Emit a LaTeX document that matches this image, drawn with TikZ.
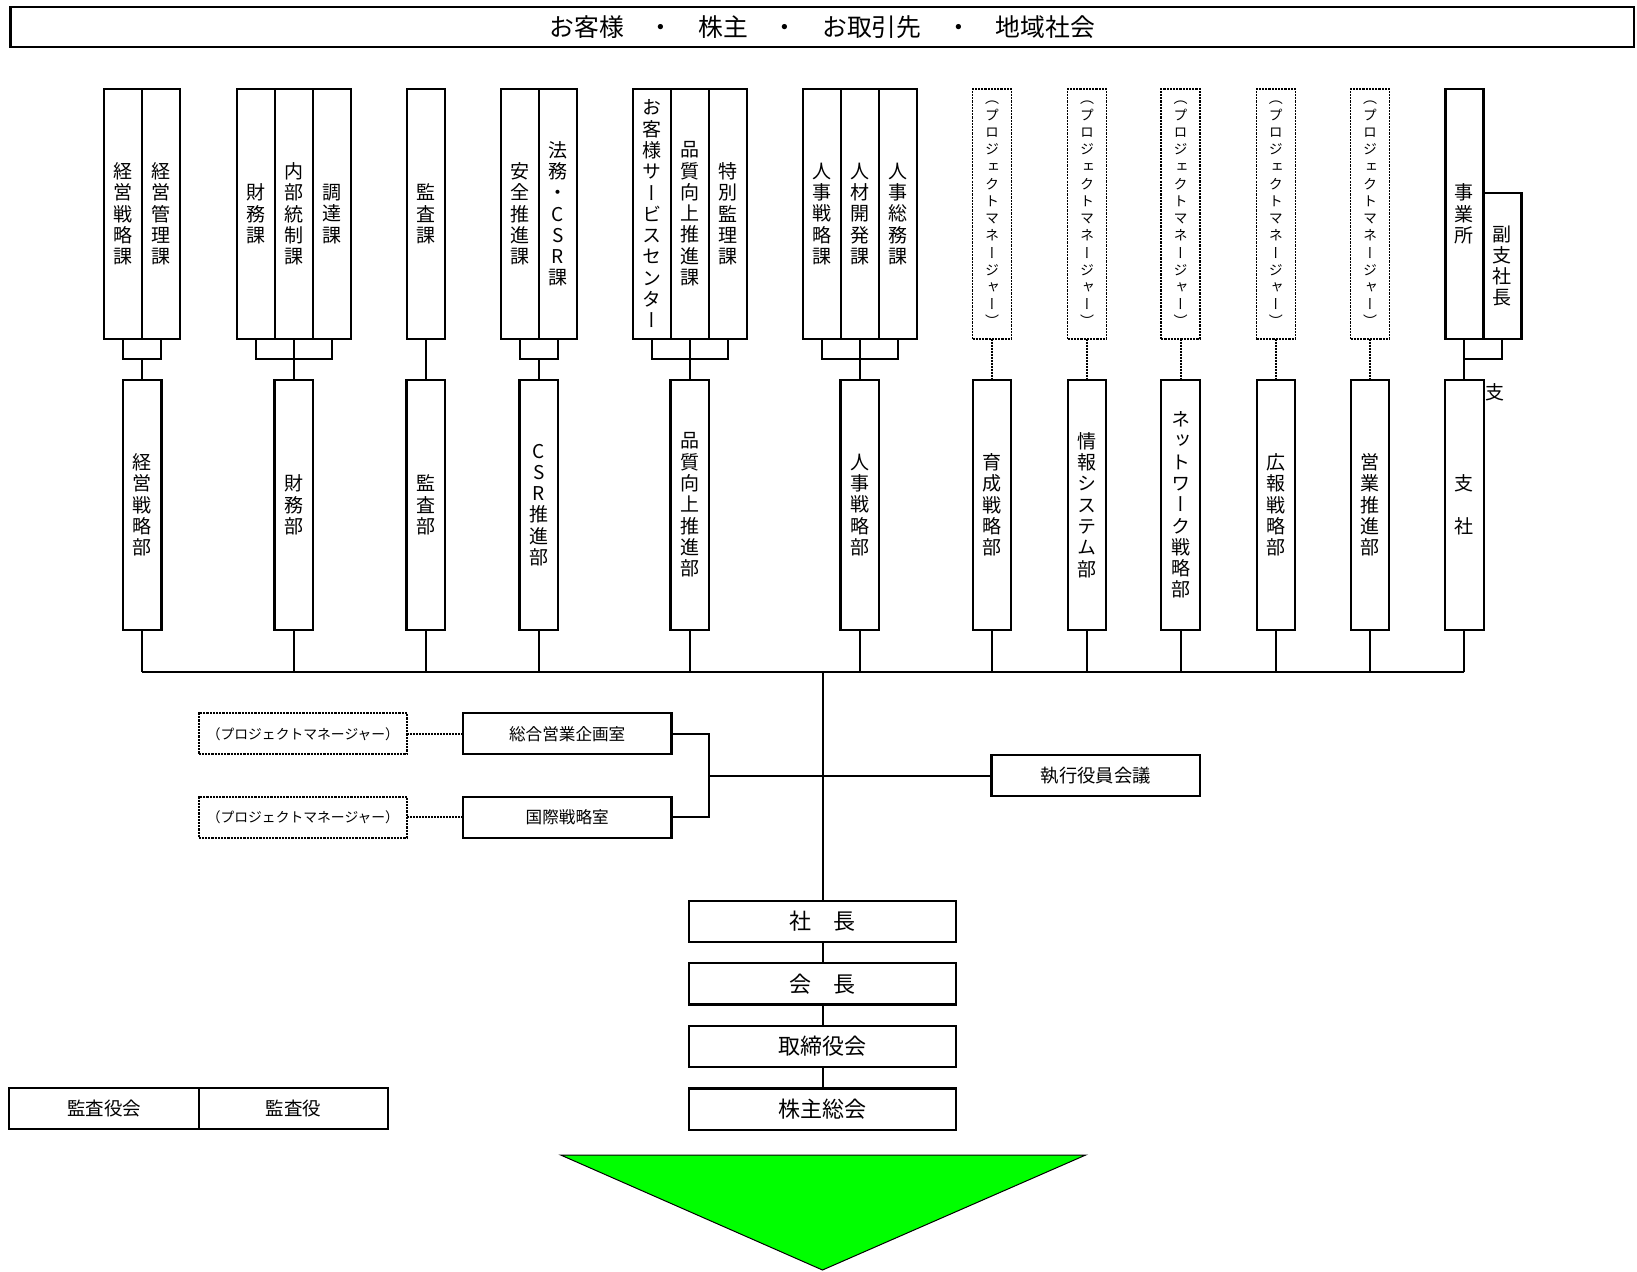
\documentclass[tikz,border=0pt]{standalone}
\usepackage{fontspec}
\setmainfont{Noto Sans CJK JP}
\newfontfamily\tate[RawFeature=+vert]{Noto Sans CJK JP}
\usetikzlibrary{positioning}
\definecolor{arrowgreen}{HTML}{00FF00}

\begin{document}
\begin{tikzpicture}[
    x=1pt, y=-1pt,
    node distance=41.3pt,
    box/.style={draw, line width=2.2pt, outer sep=0pt, inner sep=0pt, align=center},
    ka/.style={box, minimum width=38pt, minimum height=249.7pt,
               font=\tate\fontsize{19}{21.3}\selectfont},
    pmv/.style={ka, densely dotted, line width=1.8pt, minimum width=39pt,
                font=\tate\fontsize{14}{17.2}\selectfont},
    bu/.style={ka, minimum width=38.5pt, minimum height=250pt},
    hbox/.style={box, minimum width=208.5pt, minimum height=41pt,
                 font=\fontsize{16.6}{20}\selectfont},
    pmh/.style={hbox, densely dotted, line width=1.8pt,
                font=\fontsize{13.8}{16}\selectfont},
    exec/.style={box, minimum width=267pt, minimum height=41.3pt,
                 font=\fontsize{22}{26}\selectfont},
    kansa/.style={box, minimum width=189.5pt, minimum height=41pt,
                  font=\fontsize{18.5}{22}\selectfont},
    link/.style={line width=2pt},
    dlink/.style={link, densely dotted},
  ]
    \useasboundingbox (0,0) rectangle (1637,1271);

    % ---- stakeholders ----
    \node[box, minimum width=1623.6pt, minimum height=40pt,
          font=\fontsize{24.8}{28}\selectfont] (stake) at (822.2,27.2)
        {お客様　・　株主　・　お取引先　・　地域社会};

    % ---- sections (top row) ----
    \node[ka, anchor=north west] (kei1) at (104.3,89) {経\\営\\戦\\略\\課};
    \node[ka, right=0pt of kei1] (kei2) {経\\営\\管\\理\\課};

    \node[ka, anchor=north west] (zai1) at (236.7,89) {財\\務\\課};
    \node[ka, right=0pt of zai1] (zai2) {内\\部\\統\\制\\課};
    \node[ka, right=0pt of zai2] (zai3) {調\\達\\課};

    \node[ka, anchor=north west] (kan1) at (406.7,89) {監\\査\\課};

    \node[ka, anchor=north west] (anz1) at (500.7,89) {安\\全\\推\\進\\課};
    \node[ka, right=0pt of anz1] (anz2) {法\\務\\・\\C\\S\\R\\課};

    \node[ka, anchor=north west] (hin1) at (632.7,89)
        {お\\客\\様\\サ\\ー\\ビ\\ス\\セ\\ン\\タ\\ー};
    \node[ka, right=0pt of hin1] (hin2) {品\\質\\向\\上\\推\\進\\課};
    \node[ka, right=0pt of hin2] (hin3) {特\\別\\監\\理\\課};

    \node[ka, anchor=north west] (jin1) at (802.7,89) {人\\事\\戦\\略\\課};
    \node[ka, right=0pt of jin1] (jin2) {人\\材\\開\\発\\課};
    \node[ka, right=0pt of jin2] (jin3) {人\\事\\総\\務\\課};

    \foreach \i/\x in {1/992,2/1087,3/1180.6,4/1275.9,5/1370}
      \node[pmv, anchor=north] (pm\i) at (\x,89)
        {（\\プ\\ロ\\ジ\\ェ\\ク\\ト\\マ\\ネ\\ー\\ジ\\ャ\\ー\\）};

    \node[ka, anchor=north west] (jig) at (1445.4,89) {事\\業\\所};
    \node[ka, minimum height=145.4pt, anchor=south west] (fuku)
        at (jig.south east) {副\\支\\社\\長};

    % ---- departments (second row) ----
    \node[bu, below=of kei1.south east] (keibu) {経\\営\\戦\\略\\部};
    \node[bu, below=of zai2] (zaibu) {財\\務\\部};
    \node[bu, below=of kan1] (kanbu) {監\\査\\部};
    \node[bu, below=of anz1.south east] (csrbu) {C\\S\\R\\推\\進\\部};
    \node[bu, below=of hin2] (hinbu) {品\\質\\向\\上\\推\\進\\部};
    \node[bu, below=of jin2] (jinbu) {人\\事\\戦\\略\\部};
    \node[bu, below=of pm1] (ikusei) {育\\成\\戦\\略\\部};
    \node[bu, below=of pm2] (joho) {情\\報\\シ\\ス\\テ\\ム\\部};
    \node[bu, below=of pm3] (net) {ネ\\ッ\\ト\\ワ\\ー\\ク\\戦\\略\\部};
    \node[bu, below=of pm4] (koho) {広\\報\\戦\\略\\部};
    \node[bu, below=of pm5] (eigyo) {営\\業\\推\\進\\部};
    \node[bu, below=of jig] (shisha) {支\\　\\社};
    \node[font=\fontsize{19}{22}\selectfont, anchor=north west, inner sep=0pt]
        (shilbl) at ([xshift=2pt,yshift=-3pt]shisha.north east) {支};

    % ---- brackets between rows ----
    \draw[link] (kei1.south) -- ++(0,20) -| (kei2.south);
    \draw[link] (keibu.north) -- ++(0,-21.3);
    \draw[link] (zai1.south) -- ++(0,20) -| (zai3.south);
    \draw[link] (zaibu.north) -- (zai2.south);
    \draw[link] (kanbu.north) -- (kan1.south);
    \draw[link] (anz1.south) -- ++(0,20) -| (anz2.south);
    \draw[link] (csrbu.north) -- ++(0,-21.3);
    \draw[link] (hin1.south) -- ++(0,20) -| (hin3.south);
    \draw[link] (hinbu.north) -- (hin2.south);
    \draw[link] (jin1.south) -- ++(0,20) -| (jin3.south);
    \draw[link] (jinbu.north) -- (jin2.south);
    \draw[dlink] (pm1.south) -- (ikusei.north);
    \draw[dlink] (pm2.south) -- (joho.north);
    \draw[dlink] (pm3.south) -- (net.north);
    \draw[dlink] (pm4.south) -- (koho.north);
    \draw[dlink] (pm5.south) -- (eigyo.north);
    \draw[link] (jig.south) -- ++(0,20) -| (fuku.south);
    \draw[link] (shisha.north) -- (jig.south);

    % ---- bus to the departments ----
    \coordinate (bus) at (0,671.7);
    \draw[link] (keibu.south |- bus) -- (shisha.south |- bus);
    \foreach \d in {keibu,zaibu,kanbu,csrbu,hinbu,jinbu,ikusei,joho,net,koho,eigyo,shisha}
      \draw[link] (\d.south) -- (\d.south |- bus);

    % ---- top management ----
    \node[exec] (shacho) at (822.5,921.3) {社　長};
    \node[exec, below=21.3pt of shacho] (kaicho) {会　長};
    \node[exec, below=21.3pt of kaicho] (torishi) {取締役会};
    \node[exec, below=21.3pt of torishi] (kabunushi) {株主総会};
    \draw[link] (shacho.north) -- (shacho.north |- bus);
    \draw[link] (shacho) -- (kaicho);
    \draw[link] (kaicho) -- (torishi);
    \draw[link] (torishi) -- (kabunushi);

    % ---- offices and executive committee ----
    \node[hbox] (sogo) at (567.2,733.8) {総合営業企画室};
    \node[hbox, below=42.4pt of sogo] (kokusai) {国際戦略室};
    \node[pmh, left=55.8pt of sogo] (pmh1) {（プロジェクトマネージャー）};
    \node[pmh, left=55.8pt of kokusai] (pmh2) {（プロジェクトマネージャー）};
    \node[hbox, font=\fontsize{18.3}{22}\selectfont] (shikko) at (1095.8,775.5) {執行役員会議};
    \coordinate (brk) at (708.6,775.5);
    \draw[dlink] (pmh1) -- (sogo);
    \draw[dlink] (pmh2) -- (kokusai);
    \draw[link] (sogo.east) -| (brk) |- (kokusai.east);
    \draw[link] (brk) -- (shikko.west);

    % ---- auditors ----
    \node[kansa, anchor=north west] (kanyaku) at (9.3,1088.3) {監査役会};
    \node[kansa, right=0pt of kanyaku] (kansayaku) {監査役};

    % ---- green arrowhead ----
    \draw[fill=arrowgreen, line width=1pt] (560.7,1155) -- (1085.7,1155) -- (822.5,1270) -- cycle;
\end{tikzpicture}
\end{document}
